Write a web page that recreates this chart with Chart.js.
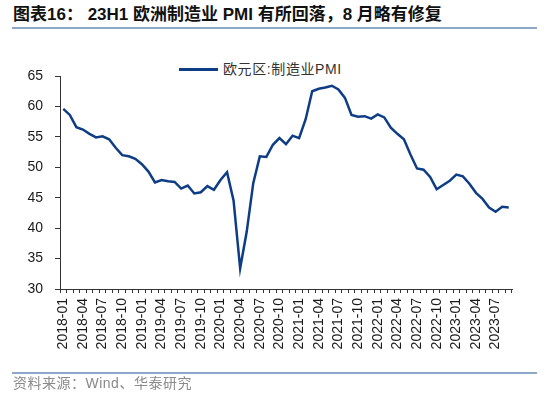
<!DOCTYPE html>
<html>
<head>
<meta charset="utf-8">
<script src="https://cdn.jsdelivr.net/npm/chart.js@4"></script>
<style>
  body { margin: 0; width: 550px; height: 398px; background: #fff; position: relative; overflow: hidden; }
  #chart { position: absolute; left: 0; top: 0; }
  .title { position: absolute; left: 13px; top: 5px; font: bold 17px/20px "Liberation Sans", "Noto Sans CJK SC", sans-serif; color: #111; white-space: nowrap; }
  .rule { position: absolute; left: 12px; width: 525px; height: 1.5px; background: #8ea6c8; }
  .legend { position: absolute; left: 179px; top: 61px; font: 14px/16px "Liberation Sans", "Noto Sans CJK SC", sans-serif; color: #333; white-space: nowrap; letter-spacing: 0.6px; }
  .legend .swatch { display: inline-block; width: 39px; height: 2.5px; background: #0e3d85; vertical-align: middle; margin-right: 5px; position: relative; top: -1px; }
  .source { position: absolute; left: 13px; top: 375px; font: 14px/16px "Liberation Sans", "Noto Sans CJK SC", sans-serif; color: #8a8a8a; white-space: nowrap; letter-spacing: 0.5px; }
</style>
</head>
<body>
<div class="title">图表16：&nbsp;23H1 欧洲制造业 PMI 有所回落，8 月略有修复</div>
<div class="rule" style="top:27px"></div>
<div class="legend"><span class="swatch"></span>欧元区:制造业PMI</div>
<canvas id="chart" width="550" height="398"></canvas>
<div class="rule" style="top:372px"></div>
<div class="source">资料来源：Wind、华泰研究</div>
<script>
const months = [
  "2018-01", "2018-02", "2018-03", "2018-04", "2018-05", "2018-06", "2018-07", "2018-08", "2018-09", "2018-10", "2018-11", "2018-12",
  "2019-01", "2019-02", "2019-03", "2019-04", "2019-05", "2019-06", "2019-07", "2019-08", "2019-09", "2019-10", "2019-11", "2019-12",
  "2020-01", "2020-02", "2020-03", "2020-04", "2020-05", "2020-06", "2020-07", "2020-08", "2020-09", "2020-10", "2020-11", "2020-12",
  "2021-01", "2021-02", "2021-03", "2021-04", "2021-05", "2021-06", "2021-07", "2021-08", "2021-09", "2021-10", "2021-11", "2021-12",
  "2022-01", "2022-02", "2022-03", "2022-04", "2022-05", "2022-06", "2022-07", "2022-08", "2022-09", "2022-10", "2022-11", "2022-12",
  "2023-01", "2023-02", "2023-03", "2023-04", "2023-05", "2023-06", "2023-07", "2023-08", "2023-09"
];

const euroPmi = [
  59.6, 58.6, 56.6, 56.2, 55.5, 54.9, 55.1, 54.6, 53.2, 52.0, 51.8, 51.4,
  50.5, 49.3, 47.5, 47.9, 47.7, 47.6, 46.5, 47.0, 45.7, 45.9, 46.9, 46.3,
  47.9, 49.2, 44.5, 33.4, 39.4, 47.4, 51.8, 51.7, 53.7, 54.8, 53.8, 55.2,
  54.8, 57.9, 62.5, 62.9, 63.1, 63.4, 62.8, 61.4, 58.6, 58.3, 58.4, 58.0,
  58.7, 58.2, 56.5, 55.5, 54.6, 52.1, 49.8, 49.6, 48.4, 46.4, 47.1, 47.8,
  48.8, 48.5, 47.3, 45.8, 44.8, 43.4, 42.7, 43.5, 43.4
];

const yMin = 30;
const yMax = 65;
const yStep = 5;

const axisColor = "#333";
const tickFont = { family: "Liberation Sans, Arial, sans-serif", size: 14 };

const ctx = document.getElementById("chart").getContext("2d");

new Chart(ctx, {
  type: "line",
  data: {
    labels: months,
    datasets: [
      {
        label: "欧元区:制造业PMI",
        data: euroPmi,
        borderColor: "#0e3d85",
        backgroundColor: "#0e3d85",
        borderWidth: 2.5,
        pointRadius: 0,
        tension: 0,
      },
    ],
  },
  options: {
    responsive: false,
    animation: false,
    layout: {
      padding: { left: 0, right: 38, top: 76, bottom: 0 },
    },
    scales: {
      x: {
        offset: true,
        grid: {
          offset: true,
          drawOnChartArea: false, // only the small tick marks below the axis
          tickLength: 4,
          color: axisColor,
        },
        border: { display: true, color: axisColor, width: 1 },
        ticks: {
          autoSkip: false,
          maxRotation: 90,
          minRotation: 90,
          padding: 5,
          color: "#1a1a1a",
          font: tickFont,
          callback: function (val, index) {
            return index % 3 === 0 ? this.getLabelForValue(val) : "";
          },
        },
        afterFit: (scale) => {
          scale.height = 109;
        },
      },
      y: {
        min: yMin,
        max: yMax,
        grid: {
          drawOnChartArea: false,
          tickLength: 5,
          color: axisColor,
        },
        border: { display: true, color: axisColor, width: 1 },
        ticks: {
          stepSize: yStep,
          padding: 12,
          color: "#1a1a1a",
          font: tickFont,
        },
        afterFit: (scale) => {
          scale.width = 60;
        },
      },
    },
    plugins: {
      legend: { display: false },
      tooltip: { enabled: false },
    },
  },
});
</script>
</body>
</html>
